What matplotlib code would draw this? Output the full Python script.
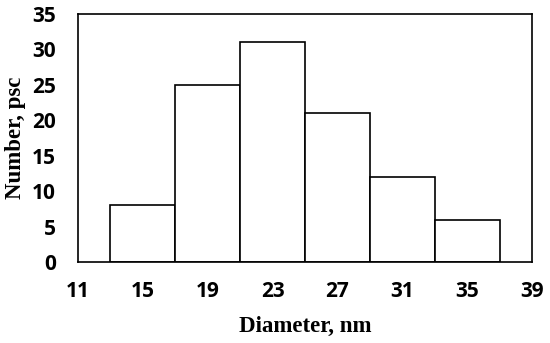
import matplotlib
matplotlib.use("Agg")
import matplotlib.pyplot as plt

bin_edges = [13, 17, 21, 25, 29, 33, 37]
counts = [8, 25, 31, 21, 12, 6]
xticks = [11, 15, 19, 23, 27, 31, 35, 39]
yticks = [0, 5, 10, 15, 20, 25, 30, 35]

fig = plt.figure(figsize=(5.5, 3.43), dpi=100)
ax = fig.add_axes([0.1418, 0.236, 0.8255, 0.723])

lefts = bin_edges[:-1]
widths = [b - a for a, b in zip(bin_edges[:-1], bin_edges[1:])]
ax.bar(lefts, counts, width=widths, align="edge", facecolor="white",
       edgecolor="black", linewidth=1.2)

ax.set_xlim(11, 39)
ax.set_ylim(0, 35)
ax.set_xticks(xticks)
ax.set_yticks(yticks)
ax.tick_params(length=0)
for lab in ax.get_xticklabels() + ax.get_yticklabels():
    lab.set_fontfamily("Open Sans")
    lab.set_fontweight("bold")
    lab.set_fontsize(15)
ax.tick_params(axis="x", pad=14)
ax.tick_params(axis="y", pad=16)
for s in ax.spines.values():
    s.set_linewidth(1.2)

ax.set_xlabel("Diameter, nm", family="Liberation Serif", fontweight="bold", fontsize=16.5, labelpad=10)
ax.set_ylabel("Number, psc", family="Liberation Serif", fontweight="bold", fontsize=16.5, labelpad=4)

fig.savefig("out.png", dpi=100)
